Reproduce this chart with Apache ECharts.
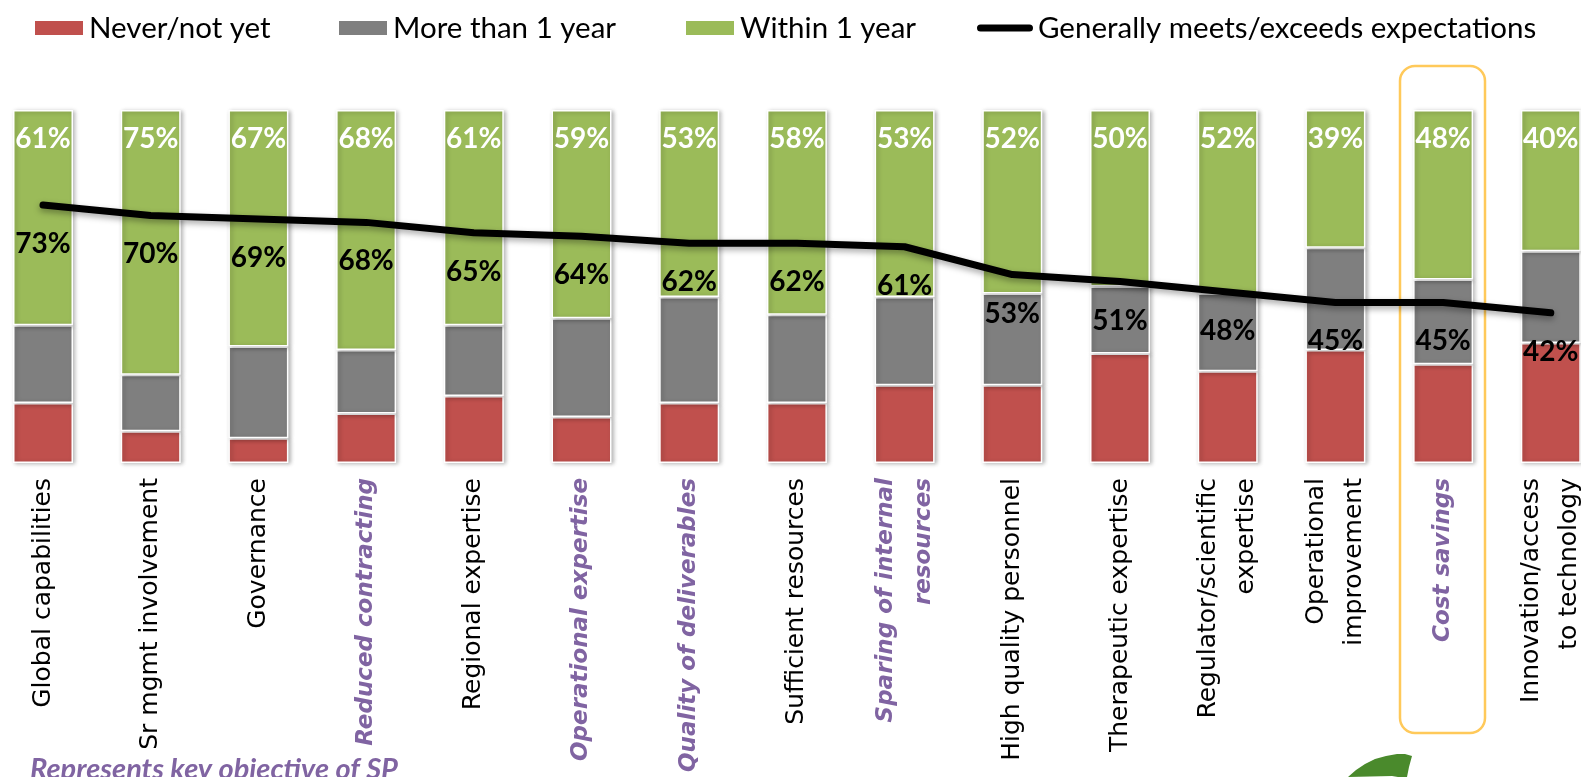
<!DOCTYPE html>
<html>
<head>
<meta charset="utf-8">
<script src="https://cdn.jsdelivr.net/npm/echarts@6/dist/echarts.min.js"></script>
<style>
html,body{margin:0;padding:0;background:#fff;overflow:hidden;width:1581px;height:777px;position:relative;}
#chart{position:absolute;left:-11px;top:0;width:1660px;height:777px;}
</style>
</head>
<body>
<div id="chart"></div>
<script>
const categories = [
  'Global capabilities', 'Sr mgmt involvement', 'Governance', 'Reduced contracting',
  'Regional expertise', 'Operational expertise', 'Quality of deliverables',
  'Sufficient resources', 'Sparing of internal\nresources', 'High quality personnel',
  'Therapeutic expertise', 'Regulator/scientific\nexpertise', 'Operational\nimprovement',
  'Cost savings', 'Innovation/access\nto technology'
];
const keyObjectives = ['Reduced contracting', 'Operational expertise', 'Quality of deliverables',
  'Sparing of internal\nresources', 'Cost savings'];
const neverVals  = [17, 9, 7, 14, 19, 13, 17, 17, 22, 22, 31, 26, 32, 28, 34];
const moreVals   = [22, 16, 26, 18, 20, 28, 30, 25, 25, 26, 19, 22, 29, 24, 26];
const withinVals = [61, 75, 67, 68, 61, 59, 53, 58, 53, 52, 50, 52, 39, 48, 40];
const meetsVals  = [73, 70, 69, 68, 65, 64, 62, 62, 61, 53, 51, 48, 45, 45, 42];
const seriesNames = ['Never/not yet', 'More than 1 year', 'Within 1 year', 'Generally meets/exceeds expectations'];

const OX = 11; // container offset (chart x = page x + OX)
const chart = echarts.init(document.getElementById('chart'), null, {renderer: 'canvas'});
const barStyle = (c) => ({
  color: c, borderColor: '#ffffff', borderWidth: 1.5,
  shadowColor: 'rgba(0,0,0,0.28)', shadowBlur: 4, shadowOffsetX: 2, shadowOffsetY: 1
});
const legendText = {fontFamily: 'Lato', fontSize: 29.5, color: '#000'};

const option = {
  animation: false,
  backgroundColor: '#fff',
  legend: [
    {data: [seriesNames[0]], left: 33 + OX, top: 13, itemWidth: 50, itemHeight: 16, icon: 'rect', itemGap: 0, textStyle: legendText, padding: 0},
    {data: [seriesNames[1]], left: 337 + OX, top: 13, itemWidth: 50, itemHeight: 16, icon: 'rect', itemGap: 0, textStyle: legendText, padding: 0},
    {data: [seriesNames[2]], left: 684 + OX, top: 13, itemWidth: 50, itemHeight: 16, icon: 'rect', itemGap: 0, textStyle: legendText, padding: 0},
    {data: [seriesNames[3]], left: 977 + OX, top: 13, itemWidth: 56, itemHeight: 16, itemGap: 0, textStyle: legendText, padding: 0,
     icon: 'path://M4,4.5 L52,4.5 A3.5,3.5 0 0 1 52,11.5 L4,11.5 A3.5,3.5 0 0 1 4,4.5 Z'}
  ],
  grid: {left: OX - 10.85, top: 110, width: 1615.5, height: 353, containLabel: false},
  xAxis: {
    type: 'category', data: categories,
    axisLine: {show: false}, axisTick: {show: false},
    axisLabel: {
      interval: 0, rotate: 90, margin: 15,
      fontFamily: 'DejaVu Sans', fontSize: 25, color: '#000', lineHeight: 38,
      formatter: (v) => keyObjectives.includes(v) ? v.split('\n').map(s => '{p|' + s + '}').join('\n') : v,
      rich: {p: {fontFamily: 'DejaVu Sans', fontSize: 23, fontWeight: 'bold', fontStyle: 'italic', color: '#8064A2', lineHeight: 38}}
    }
  },
  yAxis: [
    {type: 'value', min: 0, max: 100, show: false},
    {type: 'value', min: -1.15, max: 100.3, show: false}
  ],
  series: [
    {name: seriesNames[0], type: 'bar', stack: 's', data: neverVals, barWidth: 60, itemStyle: barStyle('#C0504D')},
    {name: seriesNames[1], type: 'bar', stack: 's', data: moreVals, barWidth: 60, itemStyle: barStyle('#7F7F7F')},
    {name: seriesNames[2], type: 'bar', stack: 's', data: withinVals, barWidth: 60, itemStyle: barStyle('#9BBB59'),
     label: {show: true, position: 'insideTop', distance: 15, color: '#fff', fontFamily: 'Lato', fontWeight: 'bold', fontSize: 28, formatter: '{c}%'}},
    {name: seriesNames[3], type: 'line', yAxisIndex: 1, data: meetsVals, z: 5,
     color: '#000',
     symbol: 'circle', symbolSize: 1, showSymbol: true,
     itemStyle: {color: '#000'},
     lineStyle: {color: '#000', width: 7, cap: 'round', join: 'round',
       shadowColor: 'rgba(0,0,0,0.35)', shadowBlur: 6, shadowOffsetY: 3},
     label: {show: true, position: 'inside', offset: [0, 39], color: '#000', fontFamily: 'Lato', fontWeight: 'bold', fontSize: 28, formatter: '{c}%'}}
  ],
  graphic: [
    {type: 'rect', shape: {x: 1400 + OX, y: 66, width: 85, height: 667, r: 15},
     style: {fill: 'none', stroke: '#FFC95A', lineWidth: 2.5}, z: 1},
    {type: 'text', left: 30 + OX, top: 755,
     style: {text: 'Represents key objective of SP', fontFamily: 'Lato', fontSize: 29, fontWeight: 'bold', fontStyle: 'italic', fill: '#8064A2'}},
    {type: 'polygon', shape: {points: [[1348,777],[1356,770],[1365,764],[1375,759],[1386,756],[1397,754],[1405,754],[1412,756],[1409,767],[1407,777],[1398,777],[1392,776]].map(p => [p[0] + OX, p[1]])},
     style: {fill: '#4A8A2C'}}
  ]
};
chart.setOption(option);
</script>
</body>
</html>
